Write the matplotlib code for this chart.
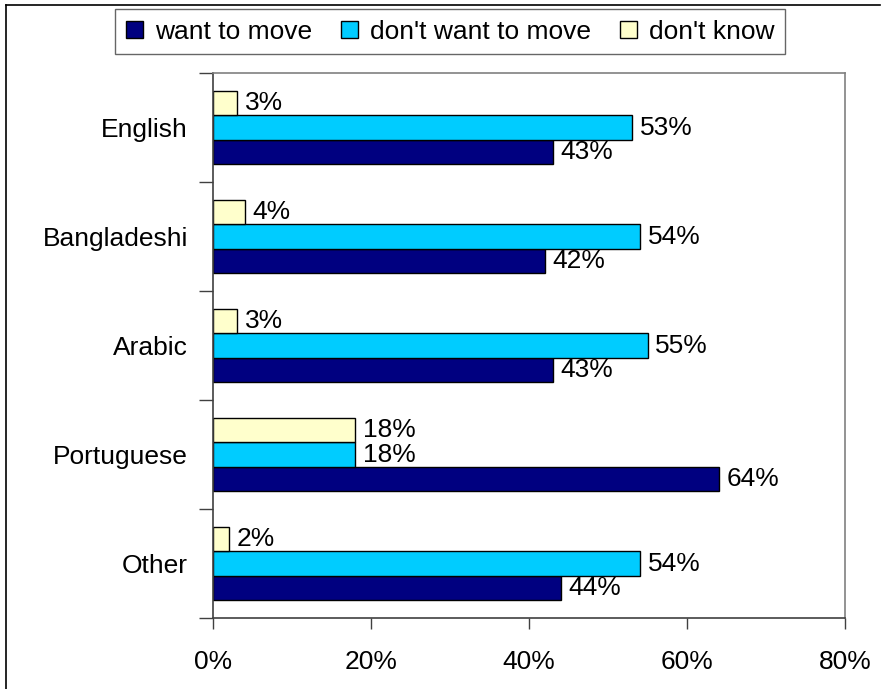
import numpy as np
import matplotlib.pyplot as plt
from matplotlib.lines import Line2D
from matplotlib.ticker import FixedLocator, FuncFormatter

plt.rcParams['font.family'] = ['Liberation Sans', 'DejaVu Sans']

# survey answers by language group (percent)
groups = ["English", "Bangladeshi", "Arabic", "Portuguese", "Other"]
want_to_move = [43, 42, 43, 64, 44]
dont_want = [53, 54, 55, 18, 54]
dont_know = [3, 4, 3, 18, 2]

series_names = ["want to move", "don't want to move", "don't know"]
colors = ["#000080", "#00CCFF", "#FFFFCC"]
fs = 19

fig = plt.figure(figsize=(8.83, 6.89), dpi=100)
ax = fig.add_axes([0.2412, 0.103, 0.7158, 0.791])

y = np.arange(len(groups))
h = 0.225
offsets = [h, 0, -h]  # dark bar at the bottom, pale one on top
all_vals = [want_to_move, dont_want, dont_know]

handles = []
for vals, off, col, name in zip(all_vals, offsets, colors, series_names):
    bars = ax.barh(y + off, vals, height=h, color=col, edgecolor="black",
                   linewidth=1.0, label=name)
    handles.append(bars)
    for yy, v in zip(y + off, vals):
        ax.text(v + 1.0, yy, f"{v}%", va="center", ha="left", fontsize=fs)

ax.set_xlim(0, 80)
ax.set_ylim(len(groups) - 0.5, -0.5)

ax.xaxis.set_major_locator(FixedLocator([0, 20, 40, 60, 80]))
ax.xaxis.set_major_formatter(FuncFormatter(lambda v, p: f"{v:.0f}%"))
ax.tick_params(axis="x", length=8, width=1, color="#404040", pad=15, labelsize=fs)

# group separators as major ticks, names as minor labels
ax.yaxis.set_major_locator(FixedLocator(np.arange(-0.5, len(groups), 1.0)))
ax.yaxis.set_major_formatter(FuncFormatter(lambda v, p: ""))
ax.yaxis.set_minor_locator(FixedLocator(y))
ax.set_yticklabels(groups, minor=True)
ax.tick_params(axis="y", which="major", length=10, width=1, color="#404040")
ax.tick_params(axis="y", which="minor", length=0, pad=18, labelsize=fs)

for s in ["top", "right"]:
    ax.spines[s].set_color("#808080")
    ax.spines[s].set_linewidth(1.2)
for s in ["left", "bottom"]:
    ax.spines[s].set_color("#404040")
    ax.spines[s].set_linewidth(1.2)

leg = fig.legend(handles=handles, labels=series_names, loc="center",
                 bbox_to_anchor=(0.51, 0.954), ncol=3, fontsize=fs,
                 frameon=True, fancybox=False, edgecolor="#404040",
                 handlelength=0.65, handleheight=0.65, handletextpad=0.45,
                 columnspacing=1.1, borderpad=0.4, borderaxespad=0)
leg.get_frame().set_linewidth(1.0)

# outer frame lines (left and top)
fig.add_artist(Line2D([6 / 883, 6 / 883], [0, 1 - 5 / 689], color="black", lw=1.2))
fig.add_artist(Line2D([6 / 883, 880 / 883], [1 - 5 / 689, 1 - 5 / 689], color="black", lw=1.2))

fig.savefig("out.png", dpi=100)
